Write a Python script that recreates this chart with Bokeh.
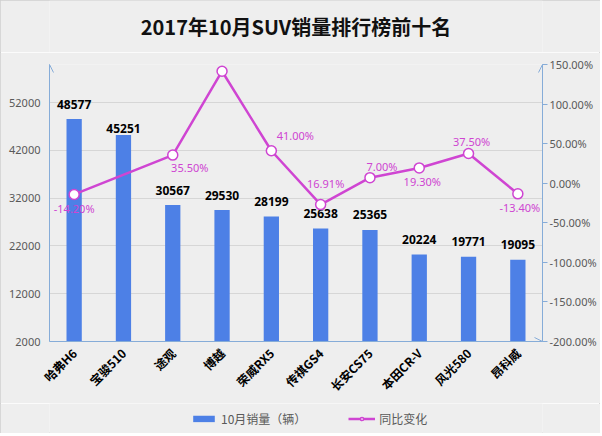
import math
from bokeh.plotting import figure
from bokeh.layouts import column
from bokeh.models import (Range1d, LinearAxis, FixedTicker, CustomJSTickFormatter,
                          ColumnDataSource, Legend, LegendItem, Arrow, OpenHead,
                          FactorRange, Label)
from bokeh.core.properties import value
from bokeh.embed import file_html
from bokeh.resources import INLINE

# ---------------- data ----------------
TITLE = "2017年10月SUV销量排行榜前十名"
models = ["哈弗H6", "宝骏510", "途观", "博越", "荣威RX5", "传祺GS4",
          "长安CS75", "本田CR-V", "风光580", "昂科威"]
sales = [48577, 45251, 30567, 29530, 28199, 25638, 25365, 20224, 19771, 19095]
yoy = [-14.2, None, 35.5, 141.5, 41.0, -27.0, 7.0, 19.3, 37.5, -13.4]
yoy_labels = ["-14.20%", "", "35.50%", "141.50%", "41.00%", "16.91%",
              "7.00%", "19.30%", "37.50%", "-13.40%"]
left_ticks = [2000, 12000, 22000, 32000, 42000, 52000]
right_ticks = [-200, -150, -100, -50, 0, 50, 100, 150]
bar_series = "10月销量（辆）"
line_series = "同比变化"

# ---------------- style ----------------
BG = "#eeeeee"
BAR = "#4d80e6"
LINE = "#cf45d2"
AXIS = "#86acd8"
GRID = "#d6d6d6"
TICK_TXT = "#595959"
FONT = "Noto Sans"
CJK = "Noto Sans CJK SC"
W = 600
YL = (2000, 60000)
YR = (-200, 150)
bar_label_dy = [-15, -6, -15, -15, -15, -15, -15, -15, -15, -15]
line_label_dx = [0, 0, 17, 0, 24, 5, 12, 3, 3, 2]
line_label_dy = [14, 0, 12, -13, -15, -21, -11, 14, -12, 14]


def strip(height, xr, yr):
    f = figure(width=W, height=height, x_range=xr, y_range=yr,
               output_backend="svg", toolbar_location=None,
               x_axis_type=None, y_axis_type=None, min_border=0,
               background_fill_color=BG, border_fill_color=BG, outline_line_color=None)
    f.grid.grid_line_color = None
    return f


# ---- title strip ----
tf = strip(52, Range1d(0, 1), Range1d(0, 1))
tf.add_layout(Label(x=0.5, y=0.5, text=TITLE, text_align="center", text_baseline="middle",
                    text_font=CJK, text_font_size="20px", text_font_style="bold",
                    text_color="#111111"))

# ---- main chart ----
p = figure(x_range=FactorRange(factors=models), y_range=Range1d(*YL),
           frame_width=493, frame_height=277, output_backend="svg", toolbar_location=None,
           min_border_left=49, min_border_right=58, min_border_top=12, min_border_bottom=54,
           background_fill_color=BG, border_fill_color=BG, outline_line_color=None)
p.extra_y_ranges = {"pct": Range1d(*YR)}

ya = p.yaxis[0]
ya.ticker = FixedTicker(ticks=left_ticks)
ya.formatter = CustomJSTickFormatter(code="return tick.toFixed(0);")
ya.axis_line_color = AXIS
ya.major_tick_out = 0
ya.major_tick_in = 0
ya.minor_tick_out = 0
ya.minor_tick_in = 0
ya.major_label_standoff = 9
ya.major_label_text_font = FONT
ya.major_label_text_font_size = "11px"
ya.major_label_text_color = TICK_TXT

ra = LinearAxis(y_range_name="pct", ticker=FixedTicker(ticks=right_ticks),
                formatter=CustomJSTickFormatter(code="return tick.toFixed(2) + '%';"))
ra.axis_line_color = AXIS
ra.major_tick_out = 5
ra.major_tick_in = 0
ra.major_tick_line_color = AXIS
ra.minor_tick_out = 0
ra.minor_tick_in = 0
ra.major_label_standoff = 2
ra.major_label_text_font = FONT
ra.major_label_text_font_size = "11px"
ra.major_label_text_color = TICK_TXT
p.add_layout(ra, "right")

xa = p.xaxis[0]
xa.axis_line_color = AXIS
xa.major_tick_out = 0
xa.major_tick_in = 0
xa.major_label_orientation = math.pi / 4
xa.major_label_standoff = 9
xa.major_label_text_font = CJK
xa.major_label_text_font_size = "12px"
xa.major_label_text_font_style = "bold"
xa.major_label_text_color = "#000000"

p.xgrid.grid_line_color = None
p.ygrid.grid_line_color = GRID
p.ygrid.ticker = FixedTicker(ticks=left_ticks)

n = len(models)
for xs, ys, xe, ye in [(0, YL[0], 0, YL[1]), (n, YL[0], n, YL[1]), (0, YL[0], n, YL[0])]:
    p.add_layout(Arrow(x_start=xs, y_start=ys, x_end=xe, y_end=ye, line_color=AXIS,
                       line_width=1,
                       end=OpenHead(size=8, line_color=AXIS, line_width=1)))

bsrc = ColumnDataSource(dict(model=models, sales=sales,
                             lab=[str(s) for s in sales], dy=bar_label_dy))
bars = p.vbar(x="model", top="sales", bottom=YL[0], width=0.31, source=bsrc,
              fill_color=BAR, line_color=None)
p.text(x="model", y="sales", text="lab", source=bsrc, y_offset="dy",
       text_align="center", text_baseline="middle",
       text_font=value(FONT), text_font_size=value("12px"), text_font_style="bold",
       text_color="#000000")

lm = [m for m, v in zip(models, yoy) if v is not None]
lv = [v for v in yoy if v is not None]
ll = [t for t, v in zip(yoy_labels, yoy) if v is not None]
ldx = [d for d, v in zip(line_label_dx, yoy) if v is not None]
ldy = [d for d, v in zip(line_label_dy, yoy) if v is not None]
lsrc = ColumnDataSource(dict(model=lm, v=lv, lab=ll, dx=ldx, dy=ldy))
ln = p.line(x="model", y="v", source=lsrc, y_range_name="pct",
            line_color=LINE, line_width=2.5)
mk = p.scatter(x="model", y="v", source=lsrc, y_range_name="pct", size=10,
               fill_color="white", line_color=LINE, line_width=1.5)
p.text(x="model", y="v", text="lab", source=lsrc, y_range_name="pct",
       x_offset="dx", y_offset="dy", text_align="center", text_baseline="middle",
       text_font=value(FONT), text_font_size=value("11px"), text_color=LINE)

# ---- legend strip: hidden copies of the series supply the legend glyphs ----
lg = strip(30, FactorRange(factors=models), Range1d(*YL))
lg.extra_y_ranges = {"pct": Range1d(*YR)}
lb = lg.vbar(x="model", top="sales", bottom=YL[0], width=0.31, source=bsrc,
             fill_color=BAR, line_color=None, visible=False)
l2 = lg.line(x="model", y="v", source=lsrc, y_range_name="pct", line_color=LINE,
             line_width=2.5, visible=False)
m2 = lg.scatter(x="model", y="v", source=lsrc, y_range_name="pct", size=10,
                fill_color="white", line_color=LINE, line_width=1.5, visible=False)
legend = Legend(items=[LegendItem(label=bar_series, renderers=[lb]),
                       LegendItem(label=line_series, renderers=[l2, m2])],
                orientation="horizontal", location="center_left", margin=141,
                background_fill_alpha=0, border_line_color=None,
                inactive_fill_alpha=0,
                label_text_font=CJK, label_text_font_size="12px",
                label_text_color=TICK_TXT, glyph_width=27, glyph_height=8,
                spacing=42, label_standoff=4, padding=2)
lg.add_layout(legend, "center")

layout = column(tf, p, lg, spacing=0,
                styles={"outline": "1px solid #cfcfcf", "outline-offset": "-1px"})
open("out.html", "w").write(file_html(layout, INLINE))
